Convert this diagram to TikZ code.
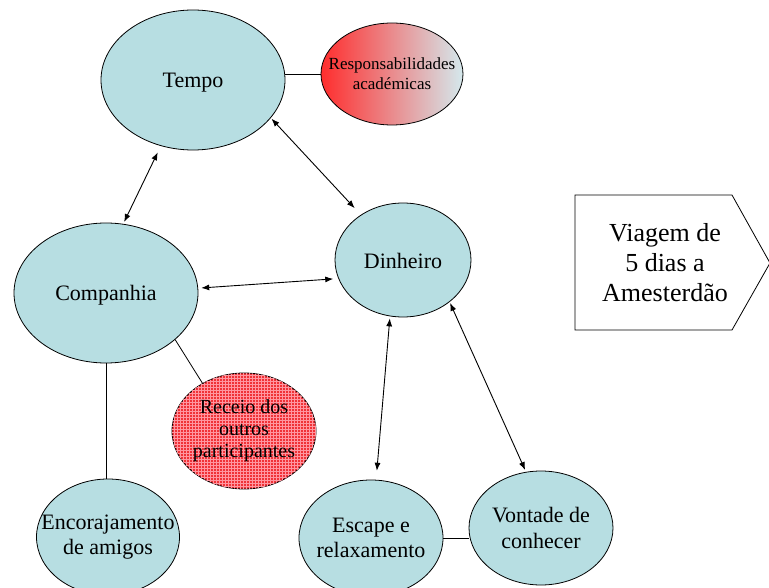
\documentclass[tikz,border=0pt]{standalone}
\usepackage{fontspec}
\setmainfont{Liberation Serif}
\usetikzlibrary{shapes.geometric,arrows.meta,patterns}
\definecolor{pale}{RGB}{183,222,226}
\definecolor{hotred}{RGB}{255,45,45}
\definecolor{coolend}{RGB}{212,233,237}
\definecolor{hatchbase}{RGB}{240,50,55}
\definecolor{hatchline}{RGB}{255,150,160}
\begin{document}
\begin{tikzpicture}[x=1pt,y=-1pt,
  bub/.style={ellipse,draw,line width=0.8pt,fill=pale,inner sep=0pt},
  txt/.style={align=center,inner sep=0pt,font=\fontsize{22}{25.5}\selectfont},
  lnk/.style={line width=0.8pt},
  arr/.style={line width=0.9pt,{Latex[length=8pt,width=6pt]}-{Latex[length=8pt,width=6pt]}}]
\useasboundingbox (0,0) rectangle (769,588);
\node[bub,minimum width=184pt,minimum height=140pt,
  label={[txt,yshift=-3pt]center:Tempo}] (tempo) at (193,80) {};
\node[bub,minimum width=142pt,minimum height=102pt,fill=none,left color=hotred,right color=coolend,
  label={[txt,font=\fontsize{17}{20}\selectfont]center:Responsabilidades\\académicas}] (resp) at (392,74) {};
\node[bub,minimum width=136pt,minimum height=114pt,
  label={[txt,yshift=-1pt]center:Dinheiro}] (din) at (403,260) {};
\node[bub,minimum width=184pt,minimum height=140pt,
  label={[txt,yshift=-2pt]center:Companhia}] (comp) at (106,293) {};
\node[bub,minimum width=144pt,minimum height=116pt,fill=hatchbase,
  postaction={pattern=grid,pattern color=hatchline},
  label={[txt,font=\fontsize{20}{22}\selectfont]center:Receio dos\\outros\\participantes}] (receio) at (244,431) {};
\node[bub,minimum width=143pt,minimum height=116pt,
  label={[txt]center:Encorajamento\\de amigos}] (enc) at (108,537) {};
\node[bub,minimum width=144pt,minimum height=116pt,
  label={[txt]center:Escape e\\relaxamento}] (esc) at (371,538) {};
\node[bub,minimum width=144pt,minimum height=114pt,
  label={[txt]center:Vontade de\\conhecer}] (von) at (541,528) {};
% pentagon
\draw[line width=0.8pt] (575,195) -- (732,195) -- (770,263) -- (732,330) -- (575,330) -- cycle;
\node[align=center,font=\fontsize{26}{30}\selectfont] (viagem) at (665,263) {Viagem de\\5 dias a\\Amesterdão};
% plain links
\draw[lnk] (resp.west) -- (tempo.east |- resp.west);
\draw[lnk] (comp.326) -- (receio.131);
\draw[lnk] (comp.south) -- (comp.south |- enc.north);
\draw[lnk] (esc.east) -- (esc.east -| von.west);
% arrows
\draw[arr,shorten <=7pt,shorten >=2pt] (tempo.244) -- (comp.76);
\draw[arr,shorten <=1pt,shorten >=9pt] (tempo.334) -- (din.133);
\draw[arr,shorten <=3pt,shorten >=5pt] (comp.3) -- (din.196);
\draw[arr,shorten <=2pt,shorten >=9pt] (din.257) -- (esc.85);
\draw[arr,shorten <=1pt,shorten >=2pt] (din.318) -- (von.105);
\end{tikzpicture}
\end{document}
